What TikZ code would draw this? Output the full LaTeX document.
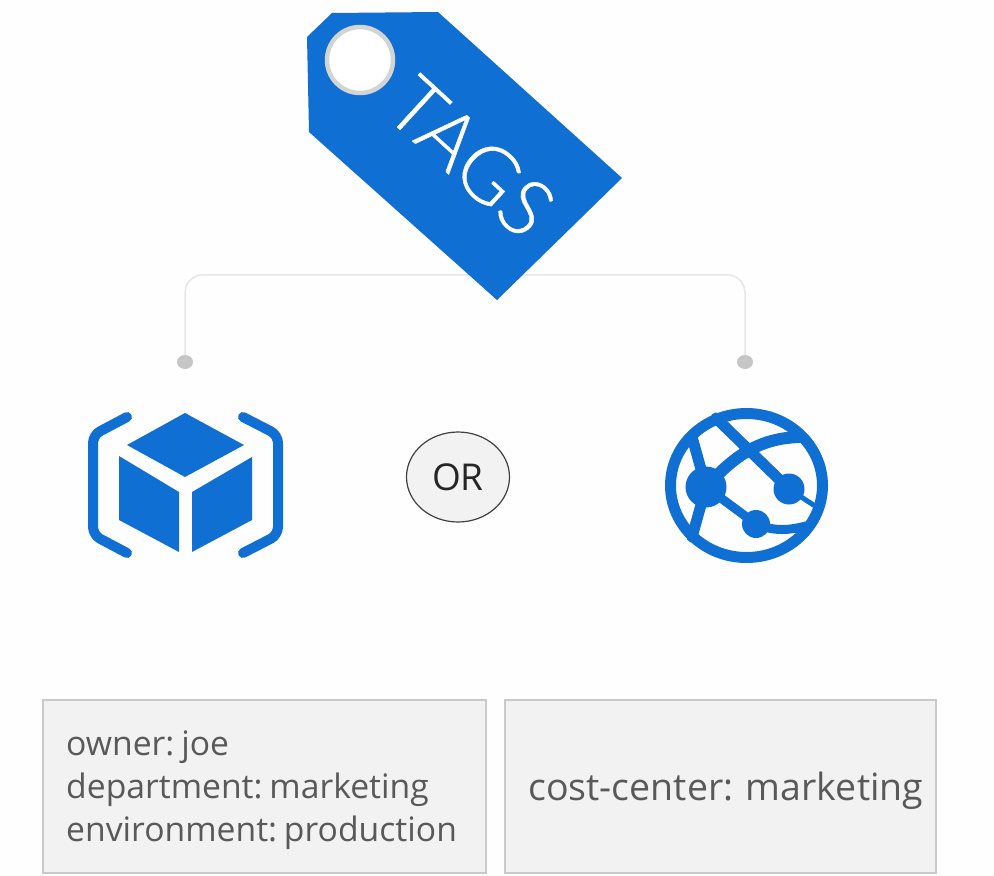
\documentclass[tikz,border=0pt]{standalone}
\usepackage{fontspec}
\setmainfont[WordSpace=0.45]{Open Sans}
\newfontfamily\taglight[FakeBold=0.5]{Lato Light}
\usetikzlibrary{shapes.geometric}
\definecolor{azure}{HTML}{0F6FD2}
\definecolor{txtgray}{HTML}{595959}
\definecolor{boxfill}{HTML}{F2F2F2}
\definecolor{boxline}{HTML}{C9C9C9}
\definecolor{linegray}{HTML}{E6E6E6}
\definecolor{dotgray}{HTML}{C6C6C6}
\tikzset{
  x=1pt,y=-1pt,
  tagbox/.style={draw=boxline,line width=1.5pt,fill=boxfill,rectangle,inner sep=0pt,outer sep=0pt,anchor=north west},
  tagtext/.style={text=txtgray,anchor=base west,inner sep=0pt,font=\fontsize{33.7}{43}\selectfont,align=left},
  enddot/.style={ellipse,fill=dotgray,minimum width=16pt,minimum height=14pt,inner sep=0pt},
  bracket/.style={draw=azure,line width=10pt,line cap=round,line join=round,rounded corners=8pt},
  globe/.style={draw=azure,line cap=round},
  link/.style={draw=linegray,line width=1.5pt,rounded corners=18pt}
}
\begin{document}
\begin{tikzpicture}
\useasboundingbox (0,0) rectangle (994,876);
\fill[white!99.5!black] (0,0) rectangle (994,876);
% connector
\node[enddot] (dotL) at (185,362) {};
\node[enddot] (dotR) at (745,362) {};
\draw[link] (dotL.north) -- ++(0,-80) -| (dotR.north);
% tag
\fill[azure] (332,13) -- (438,12) -- (622,178) -- (497,300) -- (309,132) -- (307,37) -- cycle;
\node[circle,draw=black!17,line width=4.5pt,fill=white,minimum size=66pt,inner sep=0pt] (hole) at (360,60) {};
\node[text=white,rotate=-42.5,inner sep=0pt,font=\taglight\fontsize{79}{79}\selectfont] (tagword) at (471,157) {TAGS};
% cube
\fill[azure] (185,413) -- (244,445) -- (185,477) -- (127,445) -- cycle;
\fill[azure] (119,456) -- (179,492) -- (179,552) -- (119,520) -- cycle;
\fill[azure] (192,492) -- (252,457) -- (252,520) -- (192,552) -- cycle;
\draw[bracket] (127,417) -- (93,435) -- (93,535) -- (127,553);
\draw[bracket] (243,417) -- (278,435) -- (278,535) -- (243,553);
% or
\node[ellipse,draw=black!75,line width=1.2pt,fill=boxfill,minimum width=103pt,minimum height=90pt,inner sep=0pt,text=black!85,font=\fontsize{37}{37}\selectfont] (orn) at (458,477) {OR};
% globe
\node[ellipse,globe,line width=11pt,minimum width=152pt,minimum height=144pt,inner sep=0pt] (ball) at (746.5,485.5) {};
\fill[azure] (706,487) circle (20.5);
\fill[azure] (789,489) circle (15.5);
\fill[azure] (756,524) circle (14);
\draw[globe,line width=11pt] (716,418) -- (789,489);
\draw[globe,line width=5pt] (789,489) -- (815,506);
\draw[globe,line width=12pt] (706,487) .. controls (735,455) and (760,438) .. (800,437);
\draw[globe,line width=11pt] (692,437) -- (706,487) -- (692,537);
\draw[globe,line width=9pt] (706,487) -- (756,524) .. controls (775,532) and (790,530) .. (806,526);
% boxes
\node[tagbox,minimum width=443pt,minimum height=173pt] (boxL) at (43,700) {};
\node[tagbox,minimum width=431pt,minimum height=173pt] (boxR) at (505,700) {};
\node[tagtext] (ownerline) at (66,755) {owner: joe};
\node[tagtext] (deptline) at (66,798) {department: marketing};
\node[tagtext] (envline) at (66,841) {environment: production};
\node[tagtext,font=\fontsize{37.5}{43}\selectfont] (costline) at (528,800) {cost-center:\hspace{5pt} marketing};
\end{tikzpicture}
\end{document}
